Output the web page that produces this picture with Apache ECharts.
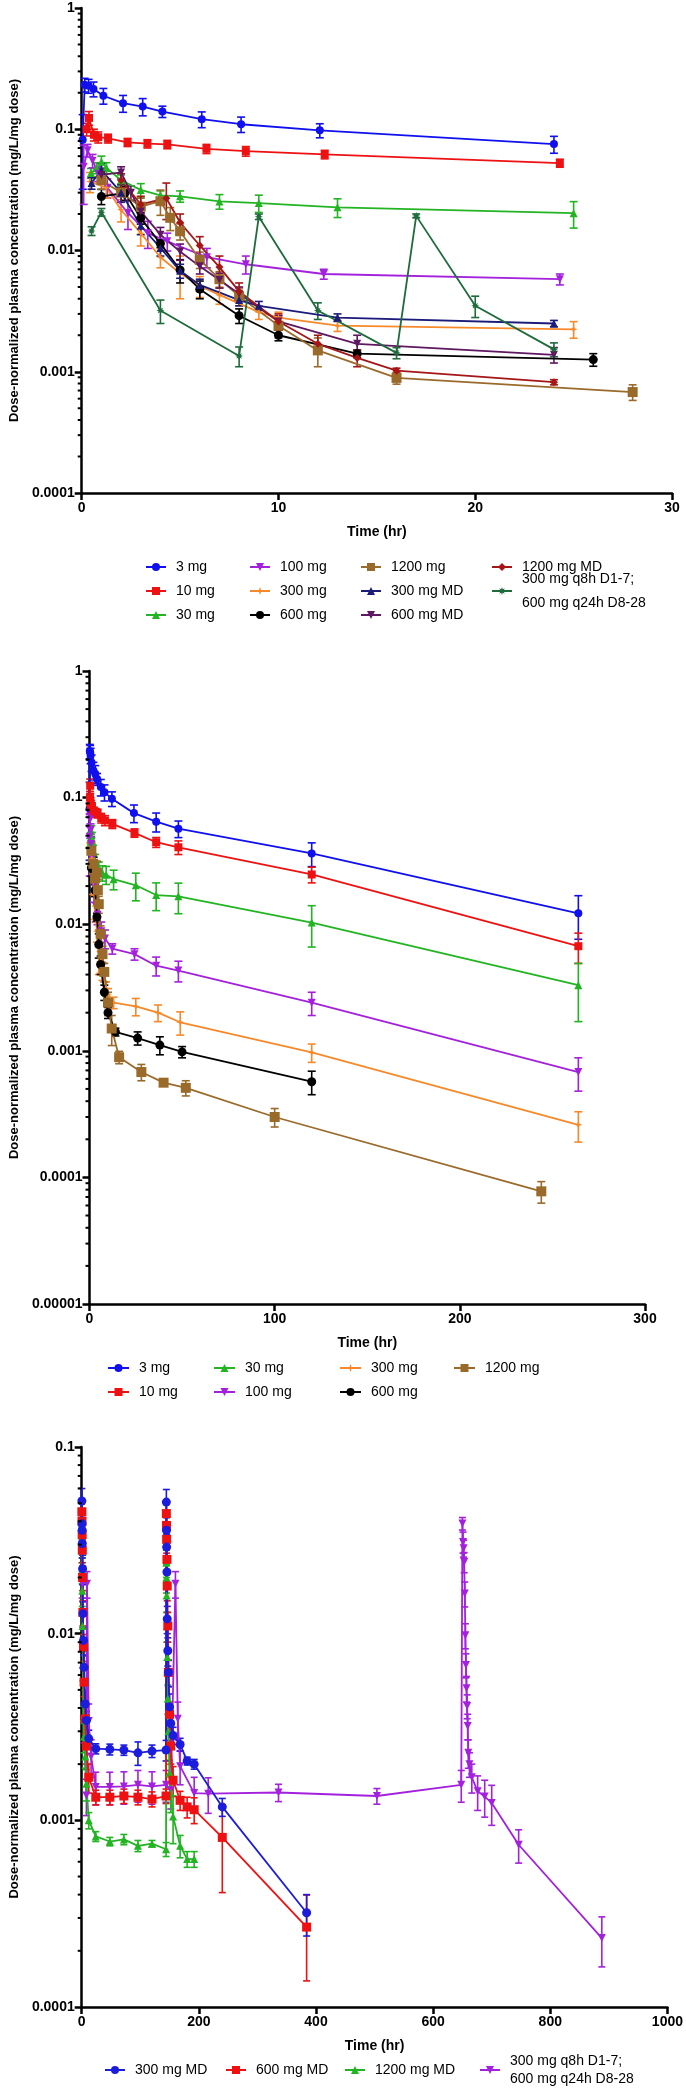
<!DOCTYPE html>
<html>
<head>
<meta charset="utf-8">
<title>Dose-normalized plasma concentration</title>
<script src="https://cdn.jsdelivr.net/npm/echarts@6/dist/echarts.min.js"></script>
<style>
  html, body { margin: 0; padding: 0; background: #fff; }
  #chart { width: 686px; height: 2100px; }
</style>
</head>
<body>
<div id="chart"></div>
<script>
// ---- single dose groups (panels 1 and 2), time in hr, mean and SD ----
var t3mg = [0.05, 0.15, 0.35, 0.6, 1.1, 2.1, 3.1, 4.1, 6.1, 8.1, 12.1, 24, 36, 48, 120, 264];
var c3mg = [0.082, 0.233, 0.228, 0.215, 0.189, 0.164, 0.154, 0.14, 0.121, 0.11, 0.098, 0.0754, 0.0645, 0.0568, 0.0362, 0.0122];
var sd3mg = [0.05, 0.03, 0.03, 0.03, 0.028, 0.026, 0.025, 0.015, 0.018, 0.016, 0.013, 0.012, 0.011, 0.0085, 0.0077, 0.0046];

var t10mg = [0.25, 0.37, 0.62, 0.84, 1.34, 2.33, 3.34, 4.35, 6.34, 8.34, 12.35, 24.3, 36, 48, 120, 264];
var c10mg = [0.1, 0.124, 0.09, 0.086, 0.084, 0.078, 0.076, 0.075, 0.069, 0.066, 0.062, 0.0526, 0.0444, 0.0405, 0.0247, 0.0067];
var sd10mg = [0.012, 0.016, 0.01, 0.009, 0.007, 0.006, 0.006, 0.006, 0.006, 0.006, 0.005, 0.004, 0.004, 0.005, 0.0035, 0.0018];

var t30mg = [0.47, 0.75, 1.0, 1.26, 2.0, 3.0, 4.0, 5.0, 7.0, 9.0, 13.0, 25.0, 36, 48, 120, 264];
var c30mg = [0.0435, 0.048, 0.054, 0.048, 0.038, 0.0316, 0.0285, 0.028, 0.0254, 0.0246, 0.0227, 0.0203, 0.017, 0.0166, 0.0103, 0.0033];
var sd30mg = [0.004, 0.005, 0.006, 0.005, 0.004, 0.004, 0.0025, 0.003, 0.0035, 0.004, 0.004, 0.005, 0.0042, 0.0045, 0.0037, 0.0016];

var t100mg = [0.1, 0.3, 0.55, 0.84, 1.3, 2.35, 3.36, 4.35, 6.36, 8.34, 12.3, 24.3, 36, 48, 120, 264];
var c100mg = [0.049, 0.067, 0.055, 0.043, 0.033, 0.0204, 0.0139, 0.0119, 0.0088, 0.0077, 0.0064, 0.0058, 0.0047, 0.0043, 0.0024, 0.00068];
var sd100mg = [0.025, 0.008, 0.007, 0.006, 0.006, 0.0055, 0.0035, 0.002, 0.0016, 0.0013, 0.0006, 0.0006, 0.0008, 0.0008, 0.0005, 0.0002];

var t300mg = [0.42, 1.25, 2, 3, 4, 5, 6, 7, 9, 10, 13, 25, 37, 49, 120, 264];
var c300mg = [0.037, 0.033, 0.0217, 0.0139, 0.0088, 0.0065, 0.0051, 0.0043, 0.0031, 0.0028, 0.0024, 0.00224, 0.002, 0.00168, 0.00097, 0.00026];
var sd300mg = [0.007, 0.006, 0.0045, 0.003, 0.0016, 0.0025, 0.001, 0.0007, 0.0004, 0.0003, 0.00025, 0.00035, 0.0003, 0.00035, 0.00016, 0.00007];

var t600mg = [1, 2.2, 3, 4, 5, 6, 8, 10, 14, 26, 38, 50, 120];
var c600mg = [0.0279, 0.0298, 0.0185, 0.0114, 0.0069, 0.0048, 0.0029, 0.002, 0.00141, 0.00126, 0.00111, 0.00098, 0.00057];
var sd600mg = [0.004, 0.004, 0.002, 0.0008, 0.0015, 0.0008, 0.0004, 0.0002, 0.0001, 0.00015, 0.00018, 0.0001, 0.00012];

var t1200mg = [1, 2, 3, 4, 4.5, 5, 6, 7, 8, 10, 12, 16, 28, 40, 52, 100, 244];
var c1200mg = [0.038, 0.03, 0.023, 0.0255, 0.0186, 0.0144, 0.0084, 0.0058, 0.0042, 0.0024, 0.0015, 0.00089, 0.00068, 0.00056, 0.00051, 0.0003, 0.0000776];
var sd1200mg = [0.006, 0.005, 0.004, 0.006, 0.004, 0.0022, 0.0013, 0.0009, 0.0007, 0.0005, 0.0004, 0.0001, 0.0001, 0.00003, 0.00007, 0.00005, 0.000015];

// ---- multiple dose groups, first 24-30 h (panel 1) ----
var tMd300 = [0.5, 1, 2, 3, 4, 5, 6, 8, 9, 13, 24];
var cMd300 = [0.036, 0.046, 0.03, 0.016, 0.0105, 0.0068, 0.0052, 0.0039, 0.0035, 0.0028, 0.0025];
var sdMd300 = [0.004, 0.006, 0.005, 0.0025, 0.0015, 0.0009, 0.0006, 0.0004, 0.0003, 0.0002, 0.00015];

var tMd600 = [1, 2, 2.5, 3, 4, 5, 6, 7, 8, 10, 14, 24];
var cMd600 = [0.042, 0.044, 0.03, 0.021, 0.0135, 0.0098, 0.0074, 0.0057, 0.0044, 0.0026, 0.0017, 0.00138];
var sdMd600 = [0.005, 0.005, 0.004, 0.003, 0.002, 0.0015, 0.001, 0.0008, 0.0006, 0.0003, 0.0003, 0.0002];

var tMd1200 = [2, 3, 4.3, 5, 6, 7, 8, 10, 12, 14, 16, 24];
var cMd1200 = [0.038, 0.024, 0.027, 0.017, 0.011, 0.0073, 0.0046, 0.0026, 0.0017, 0.0013, 0.00102, 0.00082];
var sdMd1200 = [0.005, 0.004, 0.009, 0.003, 0.002, 0.0017, 0.0008, 0.0004, 0.0003, 0.0002, 0.00005, 0.00004];

var tMix = [0.5, 1, 4, 8, 9, 12, 16, 17, 20, 24];
var cMix = [0.0145, 0.0207, 0.0032, 0.00135, 0.019, 0.0032, 0.00143, 0.0193, 0.0035, 0.00153];
var sdMix = [0.0012, 0.0015, 0.0007, 0.00025, 0.001, 0.0005, 0.00015, 0.0007, 0.0007, 0.0002];

// ---- multiple dose groups, full course (panel 3) ----
var tLongMd = [0.25, 0.5, 0.75, 1, 1.5, 2, 3, 4, 6, 8, 12, 24, 48, 72, 96, 120, 144,
  144.5, 144.75, 145, 145.5, 146, 147, 148, 150, 152, 156, 168, 180, 192, 240, 384];
var cLongMd300 = [0.0514, 0.0388, 0.0358, 0.0304, 0.0223, 0.0128, 0.0092, 0.0066, 0.0042, 0.00343, 0.00274, 0.00242,
  0.0024, 0.00238, 0.0023, 0.00235, 0.00238,
  0.0507, 0.0358, 0.0291, 0.0214, 0.012, 0.0081, 0.0062, 0.00405, 0.0033, 0.00285, 0.00255, 0.00208, 0.002, 0.00118, 0.00032];
var sdLongMd300 = [0.0085, 0.006, 0.006, 0.005, 0.004, 0.002, 0.0015, 0.001, 0.0007, 0.0004, 0.0003, 0.00015,
  0.00016, 0.00015, 0.00033, 0.00018, 0.0003,
  0.0085, 0.006, 0.005, 0.004, 0.002, 0.0014, 0.001, 0.0007, 0.0004, 0.0003, 0.0002, 0.0001, 0.00012, 0.00013, 0.00008];
var cLongMd600 = [0.045, 0.04, 0.034, 0.028, 0.02, 0.013, 0.0085, 0.0055, 0.0035, 0.0025, 0.0017, 0.00133,
  0.00133, 0.00135, 0.00133, 0.0013, 0.00135,
  0.044, 0.038, 0.032, 0.025, 0.018, 0.011, 0.0062, 0.0037, 0.0025, 0.00164, 0.00128, 0.00118, 0.00114, 0.00081, 0.000268];
var sdLongMd600 = [0.007, 0.006, 0.005, 0.004, 0.003, 0.002, 0.0014, 0.0009, 0.0006, 0.0005, 0.0003, 0.00012,
  0.00012, 0.00012, 0.00012, 0.00012, 0.00012,
  0.007, 0.006, 0.005, 0.004, 0.003, 0.002, 0.001, 0.0006, 0.0005, 0.0003, 0.00015, 0.00015, 0.00018, 0.0004, 0.00013];

var tLongMd1200 = [0.25, 0.5, 0.75, 1, 1.5, 2, 3, 4, 6, 8, 12, 24, 48, 72, 96, 120, 144,
  144.5, 144.75, 145, 145.5, 146, 147, 148, 150, 152, 156, 168, 180, 192];
var cLongMd1200 = [0.032, 0.028, 0.022, 0.017, 0.011, 0.0068, 0.0042, 0.0028, 0.0022, 0.00157, 0.001, 0.00082,
  0.00077, 0.00079, 0.00073, 0.00075, 0.0007,
  0.024, 0.02, 0.016, 0.011, 0.0075, 0.0045, 0.003, 0.0018, 0.0014, 0.00105, 0.00073, 0.00062, 0.00062];
var sdLongMd1200 = [0.005, 0.004, 0.0035, 0.003, 0.002, 0.0012, 0.0008, 0.0005, 0.0003, 0.0003, 0.0001, 0.00005,
  0.00004, 0.00005, 0.00005, 0.00003, 0.00006,
  0.004, 0.0035, 0.003, 0.002, 0.0015, 0.0008, 0.0006, 0.0003, 0.0003, 0.0003, 0.0001, 0.00006, 0.00006];

var tLongMix = [1, 4, 8, 9, 12, 16, 24, 48, 72, 96, 120, 144, 152, 160, 164, 168, 192, 216, 336, 504, 648,
  650, 651, 652, 653, 654, 655, 656, 657, 658, 659, 660, 662, 666, 676, 688, 700, 746, 888];
var cLongMix = [0.0185, 0.0034, 0.00136, 0.0185, 0.0034, 0.0022, 0.00151, 0.00151, 0.00152, 0.00155, 0.00152, 0.00155,
  0.00145, 0.0185, 0.0035, 0.00195, 0.0014, 0.00139, 0.00141, 0.00135, 0.00155,
  0.0389, 0.031, 0.0287, 0.0242, 0.0164, 0.0098, 0.0068, 0.0051, 0.0041, 0.0032, 0.0023,
  0.002, 0.0017, 0.00143, 0.00134, 0.00124, 0.00074, 0.000234];
var sdLongMix = [0.003, 0.0008, 0.0003, 0.003, 0.0008, 0.0005, 0.0003, 0.0003, 0.0003, 0.0003, 0.0003, 0.0003,
  0.0003, 0.003, 0.0008, 0.0004, 0.0003, 0.0003, 0.00015, 0.00013, 0.0003,
  0.003, 0.004, 0.003, 0.003, 0.0025, 0.0015, 0.001, 0.0008, 0.0006, 0.0005, 0.0004,
  0.0003, 0.0003, 0.0003, 0.0003, 0.0003, 0.00015, 0.00007];

// ---- axis ticks ----
var xTicks1 = [0, 10, 20, 30];
var xTicks2 = [0, 100, 200, 300];
var xTicks3 = [0, 200, 400, 600, 800, 1000];
var yTicks1 = ['0.0001', '0.001', '0.01', '0.1', '1'];
var yTicks2 = ['0.00001', '0.0001', '0.001', '0.01', '0.1', '1'];
var yTicks3 = ['0.0001', '0.001', '0.01', '0.1'];

var FONT = '"Liberation Sans", Arial, Helvetica, sans-serif';
var Y_TITLE = 'Dose-normalized plasma concentration (mg/L/mg dose)';
var DOWN = 'path://M0,10 L-10,-8 L10,-8 Z';
var STAR4 = 'path://M0,-10 L2.5,-2.5 L10,0 L2.5,2.5 L0,10 L-2.5,2.5 L-10,0 L-2.5,-2.5 Z';
var STAR8 = 'path://M0,-10 L2,-4.5 L7,-7 L4.5,-2 L10,0 L4.5,2 L7,7 L2,4.5 L0,10 L-2,4.5 L-7,7 L-4.5,2 L-10,0 L-4.5,-2 L-7,-7 L-2,-4.5 Z';

var panels = [
  { grid: { left: 72, top: 8, width: 600, height: 485 }, xt: xTicks1, yt: yTicks1, minExp: -4, nameGapY: 50, cap: 4 },
  { grid: { left: 82, top: 671, width: 563, height: 633 }, xt: xTicks2, yt: yTicks2, minExp: -5, nameGapY: 64, cap: 4 },
  { grid: { left: 71, top: 1447, width: 604, height: 560 }, xt: xTicks3, yt: yTicks3, minExp: -4, nameGapY: 52, cap: 3.5 }
];

var series = [];
var legends = [];

function errBar(cap) {
  return function (params, api) {
    var top = api.coord([api.value(0), api.value(2)]);
    var bot = api.coord([api.value(0), api.value(1)]);
    var st = { stroke: api.visual('color'), lineWidth: 1.6 };
    return {
      type: 'group',
      children: [
        { type: 'line', shape: { x1: top[0], y1: top[1], x2: bot[0], y2: bot[1] }, style: st },
        { type: 'line', shape: { x1: top[0] - cap, y1: top[1], x2: top[0] + cap, y2: top[1] }, style: st },
        { type: 'line', shape: { x1: bot[0] - cap, y1: bot[1], x2: bot[0] + cap, y2: bot[1] }, style: st }
      ]
    };
  };
}

function addSet(p, label, t, c, sd, color, symbol, size) {
  var P = panels[p];
  var xMax = P.xt[P.xt.length - 1];
  var yMin = Math.pow(10, P.minExp);
  var pts = [], bars = [];
  for (var i = 0; i < t.length; i++) {
    if (t[i] > xMax) continue;
    pts.push([t[i], c[i]]);
    var lo = c[i] - sd[i];
    if (lo < yMin) lo = yMin;
    bars.push([t[i], lo, c[i] + sd[i]]);
  }
  series.push({
    type: 'custom', name: 'err' + p + label, xAxisIndex: p, yAxisIndex: p,
    renderItem: errBar(P.cap), itemStyle: { color: color },
    encode: { x: 0, y: [1, 2] }, data: bars, silent: true, z: 2
  });
  series.push({
    type: 'line', name: p + '|' + label, xAxisIndex: p, yAxisIndex: p,
    data: pts, symbol: symbol, symbolSize: size, showSymbol: true,
    lineStyle: { color: color, width: 1.8 }, itemStyle: { color: color },
    emphasis: { disabled: true }, silent: true, z: 3
  });
}

function minorTicks(p) {
  var P = panels[p];
  var vals = [];
  for (var e = P.minExp; e < P.minExp + P.yt.length - 1; e++) {
    for (var k = 2; k <= 9; k++) vals.push([0, k * Math.pow(10, e)]);
  }
  series.push({
    type: 'custom', xAxisIndex: p, yAxisIndex: p, silent: true, clip: false, data: vals, z: 5,
    renderItem: function (params, api) {
      var pt = api.coord([api.value(0), api.value(1)]);
      return { type: 'line', shape: { x1: pt[0] - 4, y1: pt[1], x2: pt[0], y2: pt[1] }, style: { stroke: '#000', lineWidth: 2 } };
    }
  });
}

function addLegend(p, label, left, rowY, iconW, lh) {
  var twoLine = label.indexOf('\n') >= 0;
  var h = twoLine ? lh * 3 : 16;
  legends.push({
    data: [p + '|' + label], left: left, top: rowY - h / 2, padding: 0,
    itemWidth: iconW, itemHeight: 10, selectedMode: false,
    formatter: function (n) { return n.split('|')[1]; },
    textStyle: {
      fontFamily: FONT, fontSize: 14, color: '#000',
      lineHeight: twoLine ? lh : 16, padding: twoLine ? [lh, 0, 0, 5] : [0, 0, 0, 5]
    }
  });
}

// panel 1 (0-30 h)
addSet(0, '3 mg', t3mg, c3mg, sd3mg, '#1010ee', 'circle', 8);
addSet(0, '10 mg', t10mg, c10mg, sd10mg, '#ee1111', 'rect', 8);
addSet(0, '30 mg', t30mg, c30mg, sd30mg, '#22b422', 'triangle', 8);
addSet(0, '100 mg', t100mg, c100mg, sd100mg, '#a321dc', DOWN, 8);
addSet(0, '300 mg', t300mg, c300mg, sd300mg, '#f7892a', STAR4, 8);
addSet(0, '600 mg', t600mg, c600mg, sd600mg, '#000000', 'circle', 9);
addSet(0, '1200 mg', t1200mg, c1200mg, sd1200mg, '#9a6a2b', 'rect', 10);
addSet(0, '300 mg MD', tMd300, cMd300, sdMd300, '#1b1b7a', 'triangle', 8);
addSet(0, '600 mg MD', tMd600, cMd600, sdMd600, '#5e1760', DOWN, 8);
addSet(0, '1200 mg MD', tMd1200, cMd1200, sdMd1200, '#a51616', 'diamond', 8);
addSet(0, '300 mg q8h D1-7;\n600 mg q24h D8-28', tMix, cMix, sdMix, '#1e6b3c', STAR8, 8);

// panel 2 (0-300 h)
addSet(1, '3 mg', t3mg, c3mg, sd3mg, '#1010ee', 'circle', 8);
addSet(1, '10 mg', t10mg, c10mg, sd10mg, '#ee1111', 'rect', 8);
addSet(1, '30 mg', t30mg, c30mg, sd30mg, '#22b422', 'triangle', 8);
addSet(1, '100 mg', t100mg, c100mg, sd100mg, '#a321dc', DOWN, 8);
addSet(1, '300 mg', t300mg, c300mg, sd300mg, '#f7892a', STAR4, 8);
addSet(1, '600 mg', t600mg, c600mg, sd600mg, '#000000', 'circle', 9);
addSet(1, '1200 mg', t1200mg, c1200mg, sd1200mg, '#9a6a2b', 'rect', 10);

// panel 3 (0-1000 h)
addSet(2, '300 mg q8h D1-7;\n600 mg q24h D8-28', tLongMix, cLongMix, sdLongMix, '#a321dc', DOWN, 8);
addSet(2, '1200 mg MD', tLongMd1200, cLongMd1200, sdLongMd1200, '#22b422', 'triangle', 8);
addSet(2, '600 mg MD', tLongMd, cLongMd600, sdLongMd600, '#ee1111', 'rect', 9);
addSet(2, '300 mg MD', tLongMd, cLongMd300, sdLongMd300, '#1c1cdc', 'circle', 9);

minorTicks(0); minorTicks(1); minorTicks(2);

var c1 = [145, 249, 360, 491], r1 = [567, 591, 615];
addLegend(0, '3 mg', c1[0], r1[0], 20, 24);
addLegend(0, '10 mg', c1[0], r1[1], 20, 24);
addLegend(0, '30 mg', c1[0], r1[2], 20, 24);
addLegend(0, '100 mg', c1[1], r1[0], 20, 24);
addLegend(0, '300 mg', c1[1], r1[1], 20, 24);
addLegend(0, '600 mg', c1[1], r1[2], 20, 24);
addLegend(0, '1200 mg', c1[2], r1[0], 20, 24);
addLegend(0, '300 mg MD', c1[2], r1[1], 20, 24);
addLegend(0, '600 mg MD', c1[2], r1[2], 20, 24);
addLegend(0, '1200 mg MD', c1[3], r1[0], 20, 24);
addLegend(0, '300 mg q8h D1-7;\n600 mg q24h D8-28', c1[3], r1[1], 20, 24);

var c2 = [107, 213, 339, 453], r2 = [1368, 1392];
addLegend(1, '3 mg', c2[0], r2[0], 21, 24);
addLegend(1, '10 mg', c2[0], r2[1], 21, 24);
addLegend(1, '30 mg', c2[1], r2[0], 21, 24);
addLegend(1, '100 mg', c2[1], r2[1], 21, 24);
addLegend(1, '300 mg', c2[2], r2[0], 21, 24);
addLegend(1, '600 mg', c2[2], r2[1], 21, 24);
addLegend(1, '1200 mg', c2[3], r2[0], 21, 24);

var c3 = [104, 225, 344, 479], r3 = 2070;
addLegend(2, '300 mg MD', c3[0], r3, 20, 18);
addLegend(2, '600 mg MD', c3[1], r3, 20, 18);
addLegend(2, '1200 mg MD', c3[2], r3, 20, 18);
addLegend(2, '300 mg q8h D1-7;\n600 mg q24h D8-28', c3[3], r3, 20, 18);

var axisLine = { show: true, onZero: false, lineStyle: { color: '#000', width: 2.5 } };
var axisTick = { show: true, length: 7, lineStyle: { color: '#000', width: 2.5 } };
var tickFont = { fontFamily: FONT, fontWeight: 'bold', fontSize: 14, color: '#000' };

var xAxes = panels.map(function (P, i) {
  return {
    type: 'value', gridIndex: i, min: P.xt[0], max: P.xt[P.xt.length - 1], interval: P.xt[1] - P.xt[0],
    axisLine: axisLine, axisTick: axisTick, splitLine: { show: false },
    axisLabel: Object.assign({ margin: 8, formatter: function (v) { return String(v); } }, tickFont),
    name: 'Time (hr)', nameLocation: 'middle', nameGap: 32,
    nameTextStyle: { fontFamily: FONT, fontWeight: 'bold', fontSize: 14, color: '#000' }
  };
});

var yAxes = panels.map(function (P, i) {
  return {
    type: 'log', logBase: 10, gridIndex: i,
    min: Math.pow(10, P.minExp), max: Math.pow(10, P.minExp + P.yt.length - 1),
    axisLine: axisLine, axisTick: axisTick, splitLine: { show: false },
    axisLabel: Object.assign({
      margin: 7,
      formatter: function (v) { return P.yt[Math.round(Math.log10(v)) - P.minExp]; }
    }, tickFont),
    name: Y_TITLE, nameLocation: 'middle', nameRotate: 90, nameGap: P.nameGapY,
    nameTextStyle: { fontFamily: FONT, fontWeight: 'bold', fontSize: 13, color: '#000' }
  };
});

var chart = echarts.init(document.getElementById('chart'));
chart.setOption({
  animation: false,
  backgroundColor: '#fff',
  grid: panels.map(function (P) { return P.grid; }),
  xAxis: xAxes,
  yAxis: yAxes,
  legend: legends,
  series: series
});
</script>
</body>
</html>
